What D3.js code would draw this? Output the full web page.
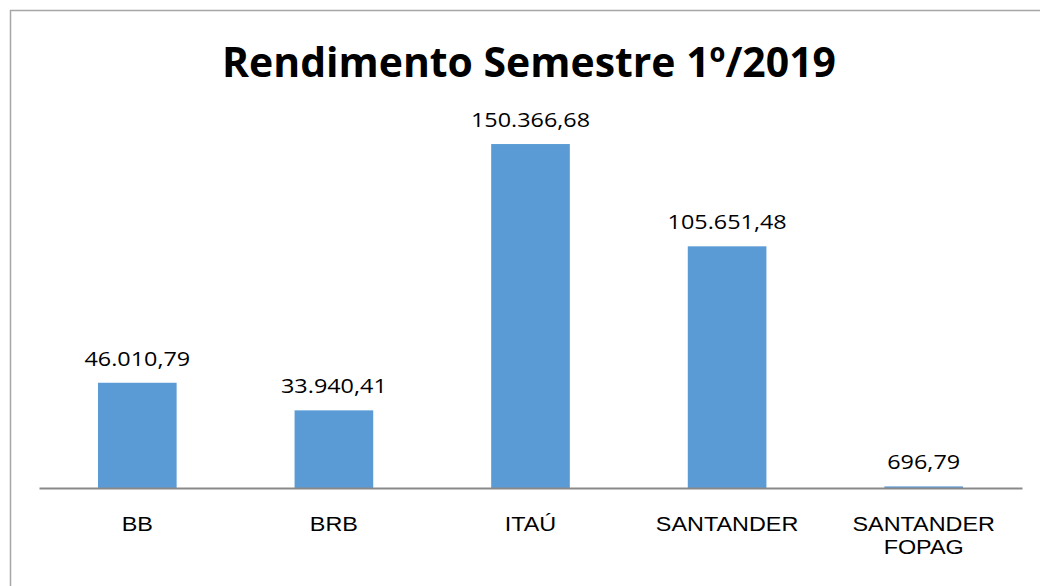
<!DOCTYPE html>
<html>
<head>
<meta charset="utf-8">
<script src="https://cdn.jsdelivr.net/npm/d3@7"></script>
<style>
  html, body { margin: 0; padding: 0; background: #fff; }
  svg { display: block; }
</style>
</head>
<body>
<svg id="chart"></svg>
<script>
  // data
  const categories = ['BB', 'BRB', 'ITAÚ', 'SANTANDER', 'SANTANDER FOPAG'];
  const values = [46010.79, 33940.41, 150366.68, 105651.48, 696.79];
  const valueLabels = ['46.010,79', '33.940,41', '150.366,68', '105.651,48', '696,79'];
  const title = 'Rendimento Semestre 1º/2019';

  const width = 1040, height = 586;
  const plot = { left: 39, right: 1022, top: 122, bottom: 488 };
  const stretch = 1.17; // text in the picture is a bit wider than the font

  const svg = d3.select('#chart')
    .attr('width', width)
    .attr('height', height)
    .attr('font-family', '"Open Sans", sans-serif');

  // chart frame (only top and left edges show in the picture)
  svg.append('rect')
    .attr('x', 10.5).attr('y', 10.5)
    .attr('width', width + 20).attr('height', height + 20)
    .attr('fill', 'none')
    .attr('stroke', '#a6a6a6')
    .attr('stroke-width', 1.5);

  const x = d3.scaleBand()
    .domain(categories)
    .range([plot.left, plot.right])
    .paddingInner(0.6)
    .paddingOuter(0.3);

  const y = d3.scaleLinear()
    .domain([0, 160000])
    .range([plot.bottom, plot.top]);

  // title
  const t = svg.append('text')
    .attr('text-anchor', 'middle')
    .attr('font-size', 42)
    .attr('font-weight', 'bold')
    .attr('fill', '#000')
    .text(title);
  const tw = t.node().getComputedTextLength();
  t.attr('transform', `translate(529,77) scale(${614 / tw},1)`);

  // bars
  svg.append('g')
    .selectAll('rect')
    .data(values)
    .join('rect')
      .attr('x', (d, i) => x(categories[i]))
      .attr('y', d => y(d))
      .attr('width', x.bandwidth())
      .attr('height', d => Math.max(1, y(0) - y(d)))
      .attr('fill', '#5b9bd5');

  // value labels
  svg.append('g')
    .selectAll('text')
    .data(values)
    .join('text')
      .attr('text-anchor', 'middle')
      .attr('font-size', 20)
      .attr('fill', '#000')
      .attr('transform', (d, i) =>
        `translate(${x(categories[i]) + x.bandwidth() / 2},${Math.min(y(d), y(0) - 2) - 17}) scale(${stretch},1)`)
      .text((d, i) => valueLabels[i]);

  // x axis
  const xAxis = svg.append('g')
    .attr('transform', `translate(0,${plot.bottom})`)
    .call(d3.axisBottom(x).tickSize(0).tickFormat(''));
  xAxis.select('.domain')
    .attr('stroke', '#898989')
    .attr('stroke-width', 2);

  // category labels, wrapped on spaces for the long one
  xAxis.selectAll('.tick').each(function(d) {
    const g = d3.select(this);
    const lines = d === 'SANTANDER FOPAG' ? d.split(' ') : [d];
    const txt = g.append('text')
      .attr('text-anchor', 'middle')
      .attr('font-size', 20)
      .attr('fill', '#000')
      .attr('transform', `translate(0,43) scale(${stretch},1)`);
    lines.forEach((l, i) => {
      txt.append('tspan').attr('x', 0).attr('dy', i === 0 ? 0 : 23).text(l);
    });
  });
</script>
</body>
</html>
